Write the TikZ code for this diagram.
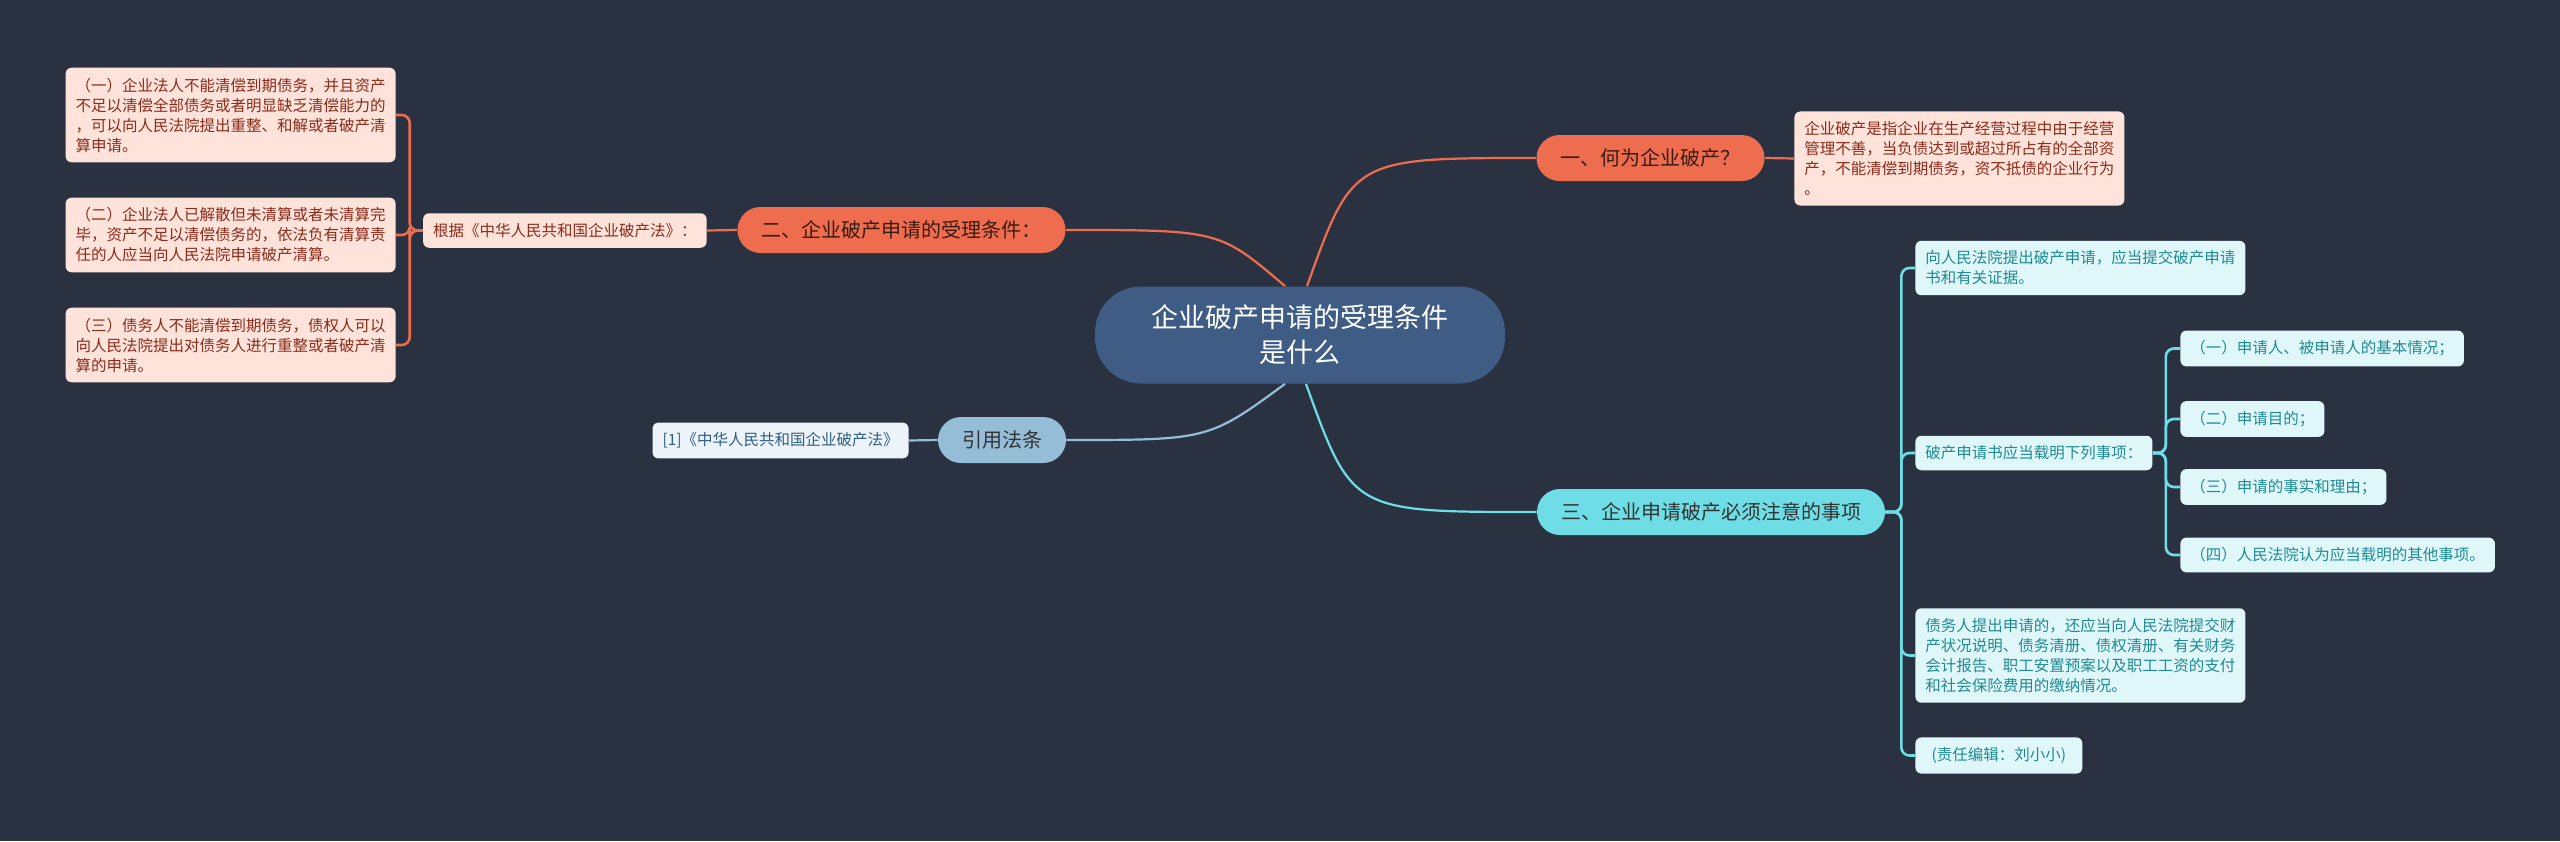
\documentclass[tikz,border=0pt]{standalone}
\usepackage{fontspec}
\setmainfont{Noto Sans CJK SC}
\usetikzlibrary{calc}
\definecolor{bgcol}{HTML}{2A3241}
\definecolor{rootblue}{HTML}{3F5C84}
\definecolor{coral}{HTML}{EE6D4E}
\definecolor{coraltext}{HTML}{3A1B12}
\definecolor{pinkfill}{HTML}{FDE3DA}
\definecolor{pinktext}{HTML}{8C2B1B}
\definecolor{steel}{HTML}{95BDD8}
\definecolor{steelleaf}{HTML}{ECF4F9}
\definecolor{steeltext}{HTML}{2E5E85}
\definecolor{aqua}{HTML}{6EDDE5}
\definecolor{aqualeaf}{HTML}{E0F7F9}
\definecolor{aquatext}{HTML}{1F8A92}

\begin{document}
\begin{tikzpicture}[
  x=0.5pt, y=-0.5pt,
  root/.style={fill=rootblue, rounded corners=23pt, text=white, align=center, font=\fontsize{13.5pt}{17.5pt}\selectfont, minimum width=205pt, minimum height=48.5pt, inner sep=0pt},
  topic/.style={rounded corners=11.5pt, minimum height=23pt, inner xsep=12pt, inner ysep=0pt, font=\fontsize{10pt}{12pt}\selectfont},
  leaf/.style={rounded corners=3pt, align=left, inner xsep=5pt, inner ysep=5pt, font=\fontsize{7.75pt}{10pt}\selectfont},
  redtopic/.style={topic, fill=coral, text=coraltext},
  redleaf/.style={leaf, fill=pinkfill, text=pinktext},
  bluetopic/.style={topic, fill=steel, text=black!80},
  blueleaf/.style={leaf, fill=steelleaf, text=steeltext},
  aquatopic/.style={topic, fill=aqua, text=black!80},
  aqualeaf/.style={leaf, fill=aqualeaf, text=aquatext},
  redlink/.style={draw=coral, line width=1.1pt},
  bluelink/.style={draw=steel, line width=1.1pt},
  aqualink/.style={draw=aqua, line width=1.1pt},
  bracket/.style={rounded corners=4pt, line width=1.3pt}
]
\fill[bgcol] (0,0) rectangle (2560,841);

% centre and first-level topics
\node[root] (root) at (1300,335) {企业破产申请的受理条件\\是什么};
\node[redtopic] (what) at (1650.5,158) {一、何为企业破产？};
\node[redtopic] (cond) at (901.5,230) {二、企业破产申请的受理条件：};
\node[bluetopic] (cite) at (1002,440) {引用法条};
\node[aquatopic] (note) at (1711,512) {三、企业申请破产必须注意的事项};

% leaves of the orange branches
\node[redleaf, anchor=west] (define) at (1794,158.5) {企业破产是指企业在生产经营过程中由于经营\\管理不善，当负债达到或超过所占有的全部资\\产，不能清偿到期债务，资不抵债的企业行为\\。};
\node[redleaf, anchor=east] (basis) at (707,230.5) {根据《中华人民共和国企业破产法》：};
\node[redleaf, anchor=east] (case1) at (396,115) {（一）企业法人不能清偿到期债务，并且资产\\不足以清偿全部债务或者明显缺乏清偿能力的\\，可以向人民法院提出重整、和解或者破产清\\算申请。};
\node[redleaf, anchor=east] (case2) at (396,235) {（二）企业法人已解散但未清算或者未清算完\\毕，资产不足以清偿债务的，依法负有清算责\\任的人应当向人民法院申请破产清算。};
\node[redleaf, anchor=east] (case3) at (396,345) {（三）债务人不能清偿到期债务，债权人可以\\向人民法院提出对债务人进行重整或者破产清\\算的申请。};

% leaf of the citation
\node[blueleaf, anchor=east] (law) at (909,440.5) {[1]《中华人民共和国企业破产法》};

% leaves of the aqua branch
\node[aqualeaf, anchor=west] (submit) at (1915,268) {向人民法院提出破产申请，应当提交破产申请\\书和有关证据。};
\node[aqualeaf, anchor=west] (items) at (1915,453) {破产申请书应当载明下列事项：};
\node[aqualeaf, anchor=west] (debtor) at (1915,655.5) {债务人提出申请的，还应当向人民法院提交财\\产状况说明、债务清册、债权清册、有关财务\\会计报告、职工安置预案以及职工工资的支付\\和社会保险费用的缴纳情况。};
\node[aqualeaf, anchor=west, minimum width=83.5pt] (editor) at (1915,755.5) {(责任编辑：刘小小)};
\node[aqualeaf, anchor=west] (item1) at (2180,348.5) {（一）申请人、被申请人的基本情况；};
\node[aqualeaf, anchor=west] (item2) at (2180,419) {（二）申请目的；};
\node[aqualeaf, anchor=west] (item3) at (2180,487) {（三）申请的事实和理由；};
\node[aqualeaf, anchor=west] (item4) at (2180,555) {（四）人民法院认为应当载明的其他事项。};

% curves out of the centre
\coordinate (outwhat) at ([xshift=3.5pt]root.north);
\coordinate (outcond) at ([xshift=-7.5pt]root.north);
\coordinate (outcite) at ([xshift=-7.5pt]root.south);
\coordinate (outnote) at ([xshift=3pt]root.south);
\draw[redlink] (outwhat) .. controls ($(outwhat |- what.west)!0.2!(what.west)$) .. (what.west);
\draw[redlink] (outcond) .. controls ($(outcond |- cond.east)!0.3!(cond.east)$) .. (cond.east);
\draw[bluelink] (outcite) .. controls ($(outcite |- cite.east)!0.35!(cite.east)$) .. (cite.east);
\draw[aqualink] (outnote) .. controls ($(outnote |- note.west)!0.2!(note.west)$) .. (note.west);

% brackets to the leaves
\draw[redlink] (what.east) -- (define.west);
\draw[redlink] (cond.west) -- (basis.east);
\draw[bluelink] (cite.west) -- (law.east);
\foreach \n in {case1,case2,case3}
  \draw[redlink, bracket] (basis.west) -- ++(-13,0) |- (\n.east);
\foreach \n in {submit,items,debtor,editor}
  \draw[aqualink, bracket] (note.east) -- ++(16,0) |- (\n.west);
\foreach \n in {item1,item2,item3,item4}
  \draw[aqualink, bracket] (items.east) -- ++(13,0) |- (\n.west);
\end{tikzpicture}
\end{document}
